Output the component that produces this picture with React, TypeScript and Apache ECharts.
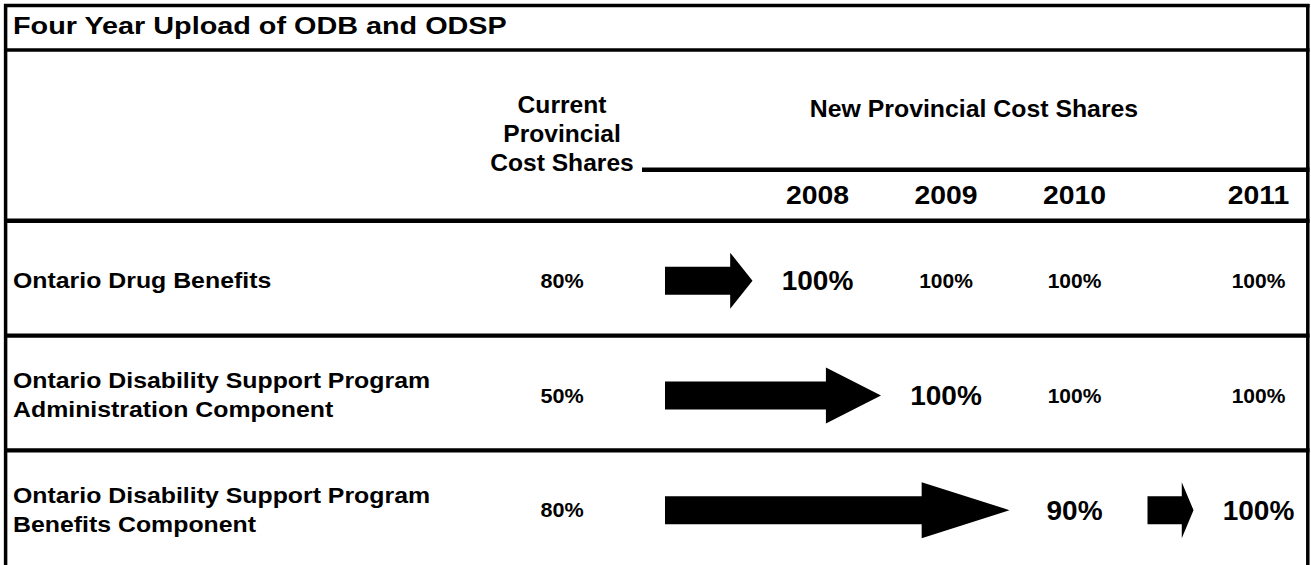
import React, { useEffect, useRef } from "react";
import * as echarts from "echarts";

// ---------- data ----------
const title = "Four Year Upload of ODB and ODSP";
const currentHeader = ["Current", "Provincial", "Cost Shares"];
const newHeader = "New Provincial Cost Shares";
const years = ["2008", "2009", "2010", "2011"];
const programs = [
  ["Ontario Drug Benefits"],
  ["Ontario Disability Support Program", "Administration Component"],
  ["Ontario Disability Support Program", "Benefits Component"],
];
const currentShares = [80, 50, 80];
const shares2008: (number | null)[] = [100, null, null];
const shares2009: (number | null)[] = [100, 100, null];
const shares2010: (number | null)[] = [100, 100, 90];
const shares2011: (number | null)[] = [100, 100, 100];
const newShares = [shares2008, shares2009, shares2010, shares2011];

// ---------- layout ----------
const W = 1311;
const H = 565;
const FONT = '"Liberation Sans", Arial, Helvetica, sans-serif';
const labelX = 13;
const currentX = 562;
const yearX = [817.5, 946, 1074.5, 1258.5];
const tableTop = 220.8;
const textDy = 2.5;
const lineGap = 29;

function txt(
  text: string,
  x: number,
  y: number,
  align: string,
  size: number,
  scaleX: number
) {
  return {
    type: "text",
    x,
    y,
    scaleX,
    silent: true,
    style: {
      text,
      fill: "#000",
      font: `bold ${size}px ${FONT}`,
      align,
      verticalAlign: "middle",
    },
  };
}

function arrow(x0: number, x1: number, y: number) {
  const len = x1 - x0;
  const head = len * 0.255;
  const bh = 14;
  const hh = 28;
  const xh = x1 - head;
  return {
    type: "polygon",
    silent: true,
    shape: {
      points: [
        [x0, y - bh],
        [xh, y - bh],
        [xh, y - hh],
        [x1, y],
        [xh, y + hh],
        [xh, y + bh],
        [x0, y + bh],
      ],
    },
    style: { fill: "#000" },
  };
}

function hline(x1: number, x2: number, y: number, w: number) {
  return {
    type: "line",
    silent: true,
    shape: { x1, y1: y, x2, y2: y },
    style: { stroke: "#000", lineWidth: w },
  };
}
function vline(x: number, y1: number, y2: number, w: number) {
  return {
    type: "line",
    silent: true,
    shape: { x1: x, y1, x2: x, y2 },
    style: { stroke: "#000", lineWidth: w },
  };
}

export default function App() {
  const ref = useRef<HTMLDivElement>(null);
  useEffect(() => {
    if (!ref.current) return;
    const chart = echarts.init(ref.current, undefined, { renderer: "svg" });

    const graphics: any[] = [
      hline(4, 1309.5, 5.6, 3.5),
      vline(5.6, 4, H, 3.5),
      vline(1307.8, 4, H, 3.5),
      hline(4, 1309.5, 50, 3.6),
      hline(642, 1309.5, 169.8, 4.5),
      hline(4, 1309.5, tableTop, 4.6),
      hline(4, 1309.5, 335.6, 4.2),
      hline(4, 1309.5, 450.4, 4.2),
      txt(title, 13, 25.6, "left", 24, 1.2),
      ...currentHeader.map((t, k) => txt(t, currentX, 104.5 + k * lineGap, "center", 23, 1.07)),
      txt(newHeader, 974, 108.4, "center", 23, 1.08),
      ...years.map((y, j) => txt(y, yearX[j], 195, "center", 26.5, 1.07)),
    ];

    chart.setOption({
      animation: false,
      grid: { left: 0, right: 0, top: tableTop, bottom: 0 },
      xAxis: { type: "value", min: 0, max: W, show: false },
      yAxis: {
        type: "category",
        inverse: true,
        show: false,
        data: programs.map((p) => p.join(" ")),
      },
      graphic: graphics,
      series: [
        {
          type: "custom",
          data: programs.map((_, i) => [0, i]),
          encode: { x: 0, y: 1 },
          clip: false,
          renderItem: (params: any, api: any) => {
            const i = params.dataIndex;
            const px = (v: number) => api.coord([v, i])[0];
            const cy = api.coord([0, i])[1] + textDy;
            const children: any[] = [];
            const lines = programs[i];
            lines.forEach((ln, k) => {
              children.push(
                txt(ln, px(labelX), cy + (k - (lines.length - 1) / 2) * lineGap, "left", 22, 1.13)
              );
            });
            children.push(txt(`${currentShares[i]}%`, px(currentX), cy, "center", 20, 1.08));
            let prevVal = currentShares[i];
            let prevX = currentX;
            let fromCurrent = true;
            newShares.forEach((col, j) => {
              const v = col[i];
              if (v == null) return;
              const changed = v !== prevVal;
              if (changed) {
                const x0 = prevX + (fromCurrent ? 103 : 73);
                const x1 = yearX[j] - 65;
                children.push(arrow(px(x0), px(x1), cy));
              }
              children.push(
                txt(`${v}%`, px(yearX[j]), cy, "center", changed ? 28 : 20, changed ? 1.0 : 1.05)
              );
              prevVal = v;
              prevX = yearX[j];
              fromCurrent = false;
            });
            return { type: "group", children };
          },
        },
      ],
    });
    return () => chart.dispose();
  }, []);
  return (
    <div
      ref={ref}
      style={{ position: "fixed", left: 0, top: 0, width: W, height: H, background: "#fff" }}
    />
  );
}
